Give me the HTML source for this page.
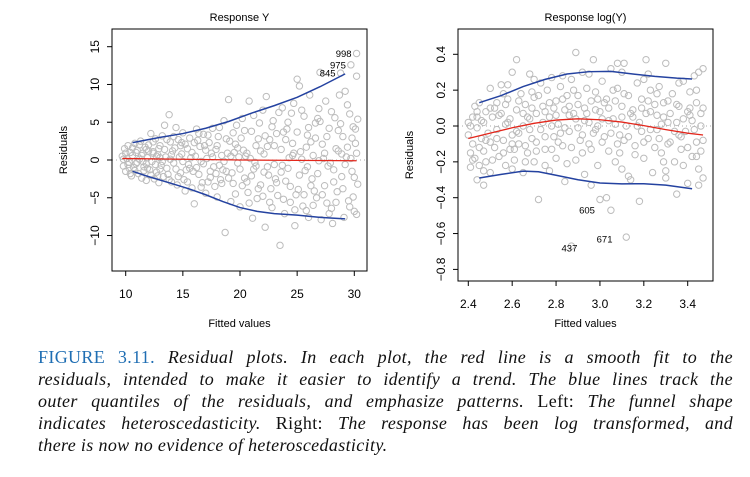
<!DOCTYPE html>
<html><head><meta charset="utf-8">
<style>
body{margin:0;background:#fff;width:750px;height:477px;overflow:hidden;font-family:"Liberation Sans",sans-serif}
#cap{position:absolute;left:38px;top:347px;width:695px;font-family:"Liberation Serif",serif;font-style:italic;font-size:18px;letter-spacing:0.35px;line-height:21.9px;color:#111}
#cap div{text-align:justify;text-align-last:justify;white-space:nowrap}
#cap div.last{text-align-last:left}
.n{font-style:normal}
.fig{font-style:normal;color:#1f6eb3}
</style></head><body>
<svg id="chart" width="750" height="340" style="position:absolute;left:0;top:0" font-family="Liberation Sans, sans-serif"></svg>
<div id="cap">
<div><span class="fig">FIGURE 3.11.</span> Residual plots. In each plot, the red line is a smooth fit to the</div>
<div>residuals, intended to make it easier to identify a trend. The blue lines track the</div>
<div>outer quantiles of the residuals, and emphasize patterns. <span class="n">Left:</span> The funnel shape</div>
<div>indicates heteroscedasticity. <span class="n">Right:</span> The response has been log transformed, and</div>
<div class="last">there is now no evidence of heteroscedasticity.</div>
</div>
<script>
// Left panel data
const leftXTicks=[10,15,20,25,30];
const leftYTicks=[-10,-5,0,5,10,15];
const leftPts=[9.7,0.5,9.8,-0.8,9.9,1.5,10,-1.5,10.1,0.2,10.2,1.9,10.3,-0.3,10.4,1,10.5,-2.1,10.6,0.6,10.7,-1,10.8,2.2,10.9,-0.5,11,1.3,11.1,-1.8,11.2,0.1,11.3,2.5,11.4,-2.4,11.5,0.9,11.6,-0.9,11.7,1.7,11.8,-2.7,11.9,0.3,12,2,12.1,-1.3,12.2,3.5,12.3,-0.2,12.4,1.1,12.5,-2.5,12.6,2.8,12.7,-1.6,12.8,0.7,12.9,-3,13,1.9,13.1,-0.7,13.2,3.2,13.3,-2.2,13.4,4.6,13.5,0.4,13.6,-1.1,13.8,6,13.9,2.4,14,-2.9,14.1,1.2,14.2,-0.4,14.4,4.3,14.5,-3.3,14.6,2.7,14.8,-1.7,14.9,0.8,15,3.6,15.1,-2.6,15.2,-4.1,15.4,1.5,15.5,-0.6,15.6,2.9,15.8,-3.7,16,-5.8,16.1,0.5,16.2,4.1,16.4,-1.9,16.5,1.8,16.7,-3,16.8,3.4,17,-4.4,17.1,0.2,17.3,2.3,17.4,-2.3,17.6,4.2,17.7,-0.9,17.9,1.4,18,-4.9,18.1,3.1,18.3,-2.6,18.4,0.6,18.6,5.2,18.7,-9.6,18.8,-1.5,19,8,19.1,2.5,19.2,-5.5,19.4,-3.1,19.5,1,19.7,4.6,19.8,-0.4,20,-6.2,20.1,2.9,20.2,5.5,20.4,-2.4,20.5,0.5,20.7,-4.3,20.8,7.8,21,3.8,21.1,-7.7,21.2,-1.2,21.4,1.9,21.5,-5.1,21.7,4.9,21.8,-3.3,22,6.6,22.1,0.8,22.2,-8.9,22.3,8.4,22.5,-2,22.6,2.7,22.8,-6.3,22.9,5.2,23,-0.6,23.2,3.5,23.3,-4.7,23.5,-11.3,23.6,1.4,23.7,6.9,23.9,-7.1,24,-2.8,24.1,4.1,24.3,0.3,24.4,-5.6,24.6,2.2,24.7,7.5,24.8,-8.7,25,10.7,25.1,-3.9,25.2,9.8,25.3,1.1,25.5,-6.1,25.6,5.8,25.7,-1.4,25.9,3.3,26,-7.6,26.1,8.6,26.3,-2.5,26.4,0.6,26.6,4.9,26.7,-5,26.9,6.8,27,11.6,27.1,-7.9,27.2,2.1,27.4,-3.4,27.5,7.8,27.7,-0.8,27.8,4.2,28,-6.4,28.1,-8.4,28.3,5.6,28.4,1.5,28.5,-4.2,28.7,8.6,28.8,11.5,28.9,-2.2,29,3.1,29.1,-7.6,29.2,9.1,29.3,0.4,29.5,-5.4,29.6,6.1,29.7,12.6,29.8,-1.5,29.9,4.4,30,-6.8,30.1,2.2,30.2,14.1,30.2,11.1,30.3,5.4,30.3,-3.2,30.2,0.9,14.3,1.6,13,-1.2,12.4,0.9,11.8,1.4,15.7,0.3,16.6,-0.2,17.5,0.9,18.2,-0.7,19.3,-1.7,20.3,1.3,21.3,-0.3,22.4,1.8,23.1,-2.5,24.2,-1.1,25.4,0.1,26.2,2.4,27.3,0.2,28.2,-1.3,29.4,1.7,27.6,-5.7,26.8,5.5,24.9,-4.6,23.8,3.7,22.7,-3.8,21.6,2.8,20.6,-2.9,19.6,2.1,18.5,-1.3,17.2,-2.9,16.3,2.6,15.3,-1.3,14.7,0.4,13.7,-1.9,12.9,1.5,10.9,1,11.5,-0.2,10.3,-1.1,26.5,-4.1,28.6,3.9,29.9,-4.9,25.8,-6.7,24.5,6.2];
const leftPtsExtra=[9.8,0.1,10,0.9,10.2,-0.6,10.4,-1.8,10.6,1.6,10.8,-1.4,11,-0.3,11.2,2,11.4,0.6,11.6,-1.4,11.8,-0.5,12,1.2,12.2,-2,12.4,2.4,12.6,-0.6,12.8,-2.1,13,0.3,13.2,-0.2,13.4,1.4,13.6,2.7,13.8,-2.6,14,0.7,14.2,3.1,14.4,-1.2,14.6,-2.2,14.8,1.9,15,-0.2,15.2,2.1,15.4,-2.9,15.6,-1.1,15.8,1,16,2.3,16.2,-1,16.4,3.5,16.6,-3.6,16.8,-0.5,17,1.3,17.2,3.3,17.4,-1.5,17.6,0.4,17.8,-3.5,18,1.9,18.2,4.3,18.4,-3.1,18.6,-0.2,18.8,2.8,19,-2.4,19.2,0.5,19.4,3.6,19.6,-4.5,19.8,1.6,20,-1.2,20.2,-3.4,20.4,3.9,20.6,0.9,20.8,-5.7,21,-2.1,21.2,5.9,21.4,-0.8,21.6,-3.8,21.8,1.2,22,-4.8,22.2,3.2,22.4,-0.9,22.6,-5.6,22.8,4.4,23,1.9,23.2,-3,23.4,6.3,23.6,-1.6,23.8,-5.2,24,2.7,24.2,5,24.4,-3.5,24.6,0.6,24.8,-6.6,25,3.7,25.2,-2,25.4,6.6,25.6,-4.6,25.8,1.7,26,4.3,26.2,-3.4,26.4,-6,26.6,2.9,26.8,-1.8,27,5.1,27.2,-4.6,27.4,0.9,27.6,3.1,27.8,-7.1,28,6.4,28.2,-2.9,28.4,-5.6,28.6,1.2,28.8,4.8,29,-3.8,29.2,-0.6,29.4,7.3,29.6,-6.2,29.8,2.9,30,-2.3,30.2,-7.2,30.1,4.1,29.7,0.2,28.9,0.8,27.9,-0.4,26.9,-0.1,25.9,-0.9,24.7,0.9,23.7,-0.7,22.1,-1.6,20.9,0.2,19.9,0.4,18.9,0.9,17.9,-1.8,16.9,1.9,15.9,-1.5,14.9,2.3,13.9,0.1,12.7,0.5,11.9,-1.1];
// Right panel data
const rightXTicks=[2.4,2.6,2.8,3.0,3.2,3.4];
const rightYTicks=[-0.8,-0.6,-0.4,-0.2,0.0,0.2,0.4];
const rightPts=[2.4,-0.05,2.4,0.02,2.41,-0.15,2.41,-0.23,2.42,0.05,2.42,-0.1,2.43,-0.18,2.43,0.11,2.44,-0.3,2.44,-0.01,2.45,-0.22,2.45,0.13,2.46,-0.07,2.46,0.03,2.47,-0.14,2.47,-0.33,2.48,0.08,2.48,-0.2,2.49,-0.04,2.5,0.21,2.5,-0.26,2.51,0.05,2.52,-0.12,2.52,0.1,2.53,-0.02,2.54,-0.17,2.55,0.23,2.55,0.07,2.56,-0.08,2.57,-0.22,2.58,0.15,2.58,0.02,2.59,-0.13,2.6,0.3,2.6,-0.05,2.61,-0.19,2.62,0.37,2.62,0.09,2.63,-0.1,2.64,0.18,2.65,-0.26,2.65,0.0,2.66,0.12,2.67,-0.15,2.68,0.29,2.68,0.04,2.69,-0.07,2.7,0.16,2.7,-0.2,2.71,0.07,2.72,-0.41,2.73,0.24,2.73,-0.02,2.74,0.11,2.75,-0.13,2.76,0.2,2.77,0.05,2.77,-0.25,2.78,0.27,2.79,-0.06,2.8,0.14,2.8,-0.18,2.81,0.01,2.82,0.22,2.83,-0.11,2.84,0.09,2.84,-0.31,2.85,0.17,2.86,-0.03,2.87,0.26,2.87,-0.67,2.88,0.07,2.89,0.41,2.89,-0.19,2.9,0.12,2.91,-0.08,2.92,0.3,2.92,-0.15,2.93,0.03,2.94,0.21,2.95,-0.1,2.96,0.14,2.96,-0.33,2.97,0.37,2.98,-0.02,2.98,0.19,2.99,-0.22,3.0,0.08,3.0,-0.41,3.01,0.25,3.02,-0.06,3.03,0.15,3.03,-0.4,3.04,-0.14,3.05,0.32,3.05,-0.47,3.06,0.04,3.07,-0.2,3.08,0.21,3.08,0.35,3.09,-0.05,3.1,0.11,3.1,-0.24,3.11,0.35,3.12,-0.62,3.12,0.0,3.13,0.17,3.14,-0.3,3.15,0.09,3.16,-0.11,3.17,0.24,3.18,-0.42,3.18,0.02,3.19,0.15,3.2,-0.18,3.21,0.37,3.21,0.07,3.22,-0.07,3.23,0.2,3.24,-0.26,3.25,0.12,3.26,-0.02,3.27,0.22,3.28,-0.15,3.29,0.05,3.3,0.35,3.3,-0.29,3.31,0.14,3.32,-0.09,3.33,0.18,3.34,-0.2,3.35,0.02,3.35,-0.38,3.36,0.11,3.37,-0.13,3.38,0.25,3.39,-0.03,3.4,0.08,3.4,-0.32,3.41,0.19,3.42,-0.17,3.42,0.03,3.43,0.28,3.44,-0.09,3.44,0.13,3.45,-0.24,3.45,0.3,3.46,0.0,3.46,-0.14,3.47,0.1,3.47,0.32,3.47,-0.29,2.44,0.05,2.5,-0.09,2.57,0.01,2.63,-0.04,2.67,0.05,2.71,-0.09,2.75,0.08,2.79,0.1,2.82,-0.04,2.86,0.06,2.9,-0.01,2.94,0.07,2.97,-0.04,3.01,0.04,3.04,0.1,3.07,0.01,3.11,-0.08,3.15,0.05,3.19,-0.03,3.23,0.08,3.27,-0.07,3.31,0.02,3.36,-0.05,3.41,0.06,2.53,0.13,2.61,-0.13,2.69,0.19,2.78,-0.13,2.88,0.2,2.99,0.15,3.09,-0.15,3.2,0.26,3.29,-0.2,3.38,-0.22,2.47,-0.25,2.56,0.18,2.66,-0.2,2.85,-0.21,3.06,0.2,3.26,0.18,3.44,0.2];
const rightPtsExtra=[2.41,0.0,2.42,-0.19,2.44,0.08,2.45,-0.12,2.47,0.02,2.48,-0.08,2.5,0.1,2.51,-0.19,2.53,-0.07,2.54,0.06,2.56,-0.15,2.57,0.12,2.59,0.04,2.6,-0.1,2.62,-0.03,2.63,0.14,2.65,0.07,2.66,-0.11,2.68,-0.02,2.69,0.1,2.71,-0.14,2.72,0.17,2.74,0.02,2.75,-0.06,2.77,0.13,2.78,0.0,2.8,0.06,2.81,-0.09,2.83,0.15,2.84,-0.01,2.86,0.11,2.87,-0.12,2.89,0.04,2.9,0.17,2.92,-0.05,2.93,0.1,2.95,0.02,2.96,-0.13,2.98,0.09,2.99,0.0,3.01,-0.09,3.02,0.13,3.04,0.03,3.05,-0.04,3.07,0.14,3.08,-0.1,3.1,0.05,3.11,0.18,3.13,-0.06,3.14,0.07,3.16,-0.16,3.17,0.0,3.19,0.1,3.2,-0.09,3.22,0.14,3.23,-0.02,3.25,-0.12,3.26,0.06,3.28,0.01,3.29,0.13,3.31,-0.1,3.32,0.07,3.34,-0.03,3.35,0.12,3.37,-0.06,3.38,0.04,3.4,-0.12,3.41,0.1,3.43,-0.02,3.44,-0.17,3.46,0.07,3.47,-0.08,2.58,0.23,2.7,0.26,2.83,0.28,2.95,0.29,3.1,0.3,3.22,0.29,3.36,0.24,2.6,-0.24,2.75,-0.22,2.93,-0.27,3.13,-0.28,3.3,-0.25,3.45,-0.33];
const leftUpper=[[10.6,2.3],[13,3],[15,3.5],[17,4.2],[19,5.1],[21,6.2],[23,7.2],[25,8.3],[27,9.7],[29.2,11.4]];
const leftLower=[[10.6,-1.5],[12,-2.2],[14,-3.1],[15.5,-3.8],[17,-4.6],[18.5,-5.5],[20,-6.3],[21.5,-6.8],[23,-7.1],[25,-7.3],[27,-7.6],[29.2,-7.8]];
const leftRed=[[9.7,0.2],[15,0.1],[20,0],[25,-0.05],[30.2,-0.1]];
const leftLabels=[["998",30.2,14.1],["975",29.7,12.6],["845",28.8,11.5]];
const rightUpper=[[2.45,0.13],[2.55,0.17],[2.65,0.22],[2.75,0.26],[2.85,0.29],[2.95,0.303],[3.05,0.305],[3.15,0.29],[3.25,0.277],[3.35,0.267],[3.42,0.262]];
const rightLower=[[2.45,-0.29],[2.55,-0.27],[2.65,-0.252],[2.72,-0.255],[2.8,-0.275],[2.9,-0.3],[3.0,-0.318],[3.1,-0.323],[3.2,-0.322],[3.3,-0.33],[3.42,-0.35]];
const rightRed=[[2.4,-0.07],[2.5,-0.04],[2.6,-0.01],[2.7,0.015],[2.8,0.033],[2.9,0.04],[3.0,0.035],[3.1,0.022],[3.2,0.002],[3.3,-0.02],[3.4,-0.04],[3.47,-0.05]];
const rightLabels=[["605",3.0,-0.47],["671",3.08,-0.63],["437",2.92,-0.68]];

const NS="http://www.w3.org/2000/svg";
const svg=document.getElementById('chart');
function mk(tag,attrs,parent){const e=document.createElementNS(NS,tag);for(const k in attrs)e.setAttribute(k,attrs[k]);(parent||svg).appendChild(e);return e;}
function scale(d0,d1,r0,r1){return v=>r0+(v-d0)*(r1-r0)/(d1-d0);}

function panel(cfg){
  const g=mk('g',{});
  
  
  const sx=cfg.sx, sy=cfg.sy, b=cfg.box;
  const z=mk('line',{x1:b[0],x2:b[2],y1:sy(0),y2:sy(0),stroke:'#aaa','stroke-width':1,'stroke-dasharray':'1,3'},g);
  
  
  const pg=mk('g',{fill:'none',stroke:'#bcbcbc','stroke-width':1},g);
  
  
  for(let i=0;i<cfg.pts.length;i+=2){
    const c=mk('circle',{cx:sx(cfg.pts[i]),cy:sy(cfg.pts[i+1]),r:3.2},pg);
    
    
  }
  function line(arr,color,name,w){
    const p=mk('polyline',{points:arr.map(d=>sx(d[0])+','+sy(d[1])).join(' '),fill:'none',stroke:color,'stroke-width':w},g);
    
    
  }
  line(cfg.upper,'#2442a0','upper-quantile-line',1.5);
  line(cfg.lower,'#2442a0','lower-quantile-line',1.5);
  line(cfg.red,'#e3261b','smooth-fit-line',1.3);
  cfg.labels.forEach(l=>{
    const t=mk('text',{x:sx(l[1])+cfg.lblDx,y:sy(l[2])+3.5,'font-size':9.5,fill:'#000','text-anchor':cfg.lblAnchor},g);
    t.textContent=l[0];
    
    
  });
  const r=mk('rect',{x:b[0],y:b[1],width:b[2]-b[0],height:b[3]-b[1],fill:'none',stroke:'#000','stroke-width':1},g);
  
  
  cfg.xt.forEach(v=>{
    const x=sx(v);
    const tl=mk('line',{x1:x,x2:x,y1:b[3],y2:b[3]+5,stroke:'#000'},g);
    
    
    const t=mk('text',{x:x,y:b[3]+27,'font-size':12,'text-anchor':'middle'},g);
    t.textContent=cfg.xfmt(v);
    
    
  });
  cfg.yt.forEach(v=>{
    const y=sy(v);
    const tl=mk('line',{x1:b[0]-5,x2:b[0],y1:y,y2:y,stroke:'#000'},g);
    
    
    const t=mk('text',{x:b[0]-13,y:y,'font-size':12,'text-anchor':'middle',transform:'rotate(-90 '+(b[0]-13)+' '+y+')'},g);
    t.textContent=cfg.yfmt(v);
    
    
  });
  const title=mk('text',{x:(b[0]+b[2])/2,y:21,'font-size':11,'text-anchor':'middle'},g);
  title.textContent=cfg.title;
  
  
  const xl=mk('text',{x:(b[0]+b[2])/2,y:327,'font-size':11,'text-anchor':'middle'},g);
  xl.textContent='Fitted values';
  
  
  const yx=b[0]-45, yy=(b[1]+b[3])/2;
  const yl=mk('text',{x:yx,y:yy,'font-size':11,'text-anchor':'middle',transform:'rotate(-90 '+yx+' '+yy+')'},g);
  yl.textContent='Residuals';
  
  
}

panel({name:'left-panel-response-y',box:[112,29,367,271],sx:scale(10,30,125.7,354.3),sy:scale(0,15,160,46.7),
  pts:leftPts.concat(leftPtsExtra),upper:leftUpper,lower:leftLower,red:leftRed,labels:leftLabels,lblDx:-5,lblAnchor:'end',
  xt:leftXTicks,yt:leftYTicks,xfmt:v=>String(v),yfmt:v=>(v<0?'\u2212'+(-v):String(v)),title:'Response Y'});
panel({name:'right-panel-response-logy',box:[458,29,713,281],sx:scale(2.4,3.4,468.3,687.7),sy:scale(0,0.4,126,54.3),
  pts:rightPts.concat(rightPtsExtra),upper:rightUpper,lower:rightLower,red:rightRed,labels:rightLabels,lblDx:-5,lblAnchor:'end',
  xt:rightXTicks,yt:rightYTicks,xfmt:v=>v.toFixed(1),yfmt:v=>(v<0?'\u2212'+(-v).toFixed(1):v.toFixed(1)),title:'Response log(Y)'});
</script>
</body></html>
